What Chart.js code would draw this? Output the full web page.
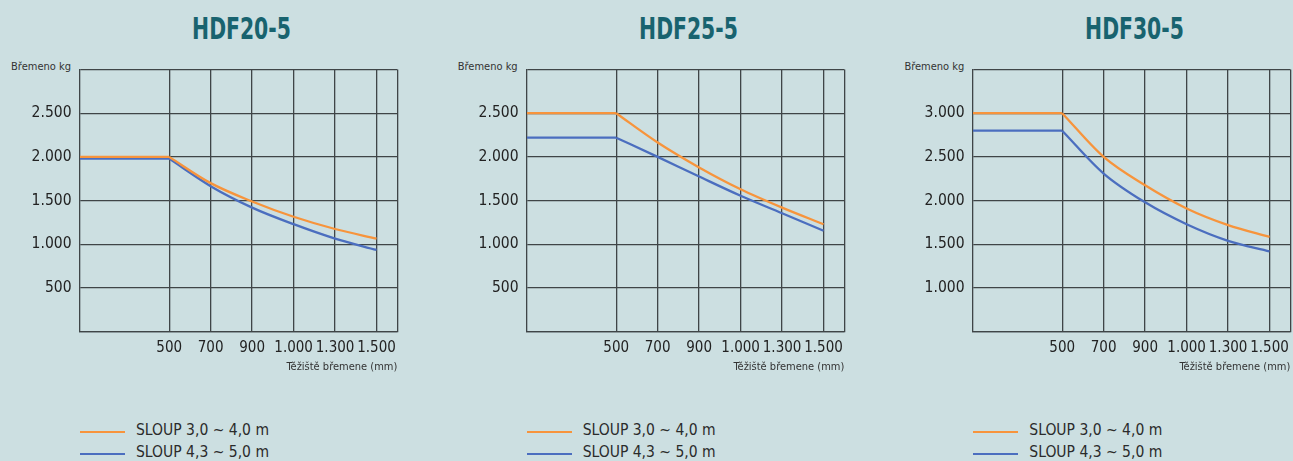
<!DOCTYPE html>
<html>
<head>
<meta charset="utf-8">
<title>HDF nosnost</title>
<script src="https://cdn.jsdelivr.net/npm/chart.js@4.4.1/dist/chart.umd.min.js"></script>
<style>
  html, body { margin: 0; padding: 0; }
  body { width: 1293px; height: 461px; background: #ccdfe1; position: relative; overflow: hidden; }
  .panel { position: absolute; top: 0; width: 412px; height: 461px; }
  .panel canvas { position: absolute; left: 0; top: 50px; }
  .model { position: absolute; left: 80px; width: 317px; top: 10px; text-align: center;
           font: bold 31px "DejaVu Sans Condensed", sans-serif; color: #18636f; line-height: 36px;
           transform: translateX(3px) scaleX(0.73); transform-origin: 50% 50%; }
  .unit { position: absolute; left: 0; width: 71px; top: 60px; text-align: right;
          font: 11px "DejaVu Sans Condensed", sans-serif; color: #333; line-height: 14px; }
  .legend { position: absolute; left: 80px; top: 419px;
            font: 15.5px "DejaVu Sans Condensed", sans-serif; color: #2b2b2b; }
  .legend div { height: 22px; line-height: 22px; display: flex; align-items: center; }
  .legend span.swatch { display: inline-block; width: 45px; height: 2px; margin-right: 11px; position: relative; top: 2px; }
</style>
</head>
<body>
<script>
// Nosnost podle těžiště břemene
const tickLabels = ['500', '700', '900', '1.000', '1.300', '1.500'];
const models = ['HDF20-5', 'HDF25-5', 'HDF30-5'];
const seriesNames = ['SLOUP 3,0 ~ 4,0 m', 'SLOUP 4,3 ~ 5,0 m'];
const seriesColors = ['#f7943c', '#4b6ebf'];

const hdf20Short = [2000, 1700, 1490, 1315, 1175, 1065];
const hdf20Long = [1980, 1665, 1420, 1230, 1065, 935];
const hdf25Short = [2500, 2165, 1880, 1630, 1420, 1230];
const hdf25Long = [2220, 2000, 1775, 1555, 1355, 1155];
const hdf30Short = [3000, 2500, 2175, 1910, 1720, 1585];
const hdf30Long = [2800, 2310, 1980, 1730, 1540, 1420];

const yLabels20 = [500, 1000, 1500, 2000, 2500];
const yLabels25 = [500, 1000, 1500, 2000, 2500];
const yLabels30 = [1000, 1500, 2000, 2500, 3000];
const yRanges = [[0, 3000], [0, 3000], [500, 3500]];

const chartData = [
    [hdf20Short, hdf20Long, yLabels20],
    [hdf25Short, hdf25Long, yLabels25],
    [hdf30Short, hdf30Long, yLabels30]
];

const xMin = -2.15;
const xMax = 5.5;
const gridColor = '#3f4547';
const panelLeft = [0, 446.67, 893.33];

function fmt(v) {
    return v >= 1000 ? Math.floor(v / 1000) + '.' + String(v % 1000).padStart(3, '0') : String(v);
}

function buildDatasets(values, color, name) {
    // flat part up to 500 mm, then the curve
    return [
        {
            label: name,
            data: [{ x: xMin, y: values[0] }, { x: 0, y: values[0] }],
            borderColor: color, borderWidth: 2.3, pointRadius: 0, tension: 0
        },
        {
            label: name,
            data: values.map((v, i) => ({ x: i, y: v })),
            borderColor: color, borderWidth: 2.3, pointRadius: 0,
            cubicInterpolationMode: 'monotone'
        }
    ];
}

function makePanel(idx) {
    const panel = document.createElement('div');
    panel.className = 'panel';
    panel.style.left = panelLeft[idx] + 'px';

    const title = document.createElement('div');
    title.className = 'model';
    title.textContent = models[idx];
    panel.appendChild(title);

    const unit = document.createElement('div');
    unit.className = 'unit';
    unit.textContent = 'Břemeno kg';
    panel.appendChild(unit);

    const canvas = document.createElement('canvas');
    canvas.width = 412;
    canvas.height = 340;
    panel.appendChild(canvas);

    const legend = document.createElement('div');
    legend.className = 'legend';
    seriesNames.forEach((name, i) => {
        const row = document.createElement('div');
        row.innerHTML = '<span class="swatch" style="background:' + seriesColors[i] + '"></span>' + name;
        legend.appendChild(row);
    });
    panel.appendChild(legend);
    document.body.appendChild(panel);

    const [shortMast, longMast, yLabels] = chartData[idx];
    const [yMin, yMax] = yRanges[idx];

    new Chart(canvas.getContext('2d'), {
        type: 'line',
        data: {
            datasets: [
                ...buildDatasets(shortMast, seriesColors[0], seriesNames[0]),
                ...buildDatasets(longMast, seriesColors[1], seriesNames[1])
            ]
        },
        options: {
            responsive: false,
            animation: false,
            devicePixelRatio: 1,
            layout: { padding: { top: 19.5, left: 0, right: 14.7, bottom: 0 } },
            plugins: { legend: { display: false }, tooltip: { enabled: false } },
            scales: {
                x: {
                    type: 'linear',
                    min: xMin,
                    max: xMax,
                    afterBuildTicks: scale => {
                        scale.ticks = tickLabels.map((t, i) => ({ value: i })).concat([{ value: xMax }]);
                    },
                    afterFit: scale => { scale.height = 340 - 281.7; },
                    ticks: {
                        autoSkip: false,
                        maxRotation: 0,
                        padding: 7.5,
                        color: '#222',
                        font: { family: '"DejaVu Sans Condensed", sans-serif', size: 15 },
                        callback: value => (Number.isInteger(value) && tickLabels[value]) ? tickLabels[value] : ''
                    },
                    grid: { color: gridColor, lineWidth: 1.3, drawTicks: false },
                    border: { color: gridColor, width: 1.3 },
                    title: {
                        display: true,
                        text: 'Těžiště břemene (mm)',
                        align: 'end',
                        color: '#333',
                        font: { family: '"DejaVu Sans Condensed", sans-serif', size: 11 },
                        padding: { top: 0, bottom: 16.7 }
                    }
                },
                y: {
                    type: 'linear',
                    min: yMin,
                    max: yMax,
                    afterBuildTicks: scale => {
                        const ticks = [];
                        for (let v = yMin; v <= yMax; v += 500) ticks.push({ value: v });
                        scale.ticks = ticks;
                    },
                    afterFit: scale => { scale.width = 80; },
                    ticks: {
                        padding: 8.5,
                        color: '#222',
                        font: { family: '"DejaVu Sans Condensed", sans-serif', size: 15.5 },
                        callback: value => yLabels.includes(value) ? fmt(value) : ''
                    },
                    grid: { color: gridColor, lineWidth: 1.3, drawTicks: false },
                    border: { color: gridColor, width: 1.3 }
                }
            }
        }
    });
}

models.forEach((m, i) => makePanel(i));
</script>
</body>
</html>
